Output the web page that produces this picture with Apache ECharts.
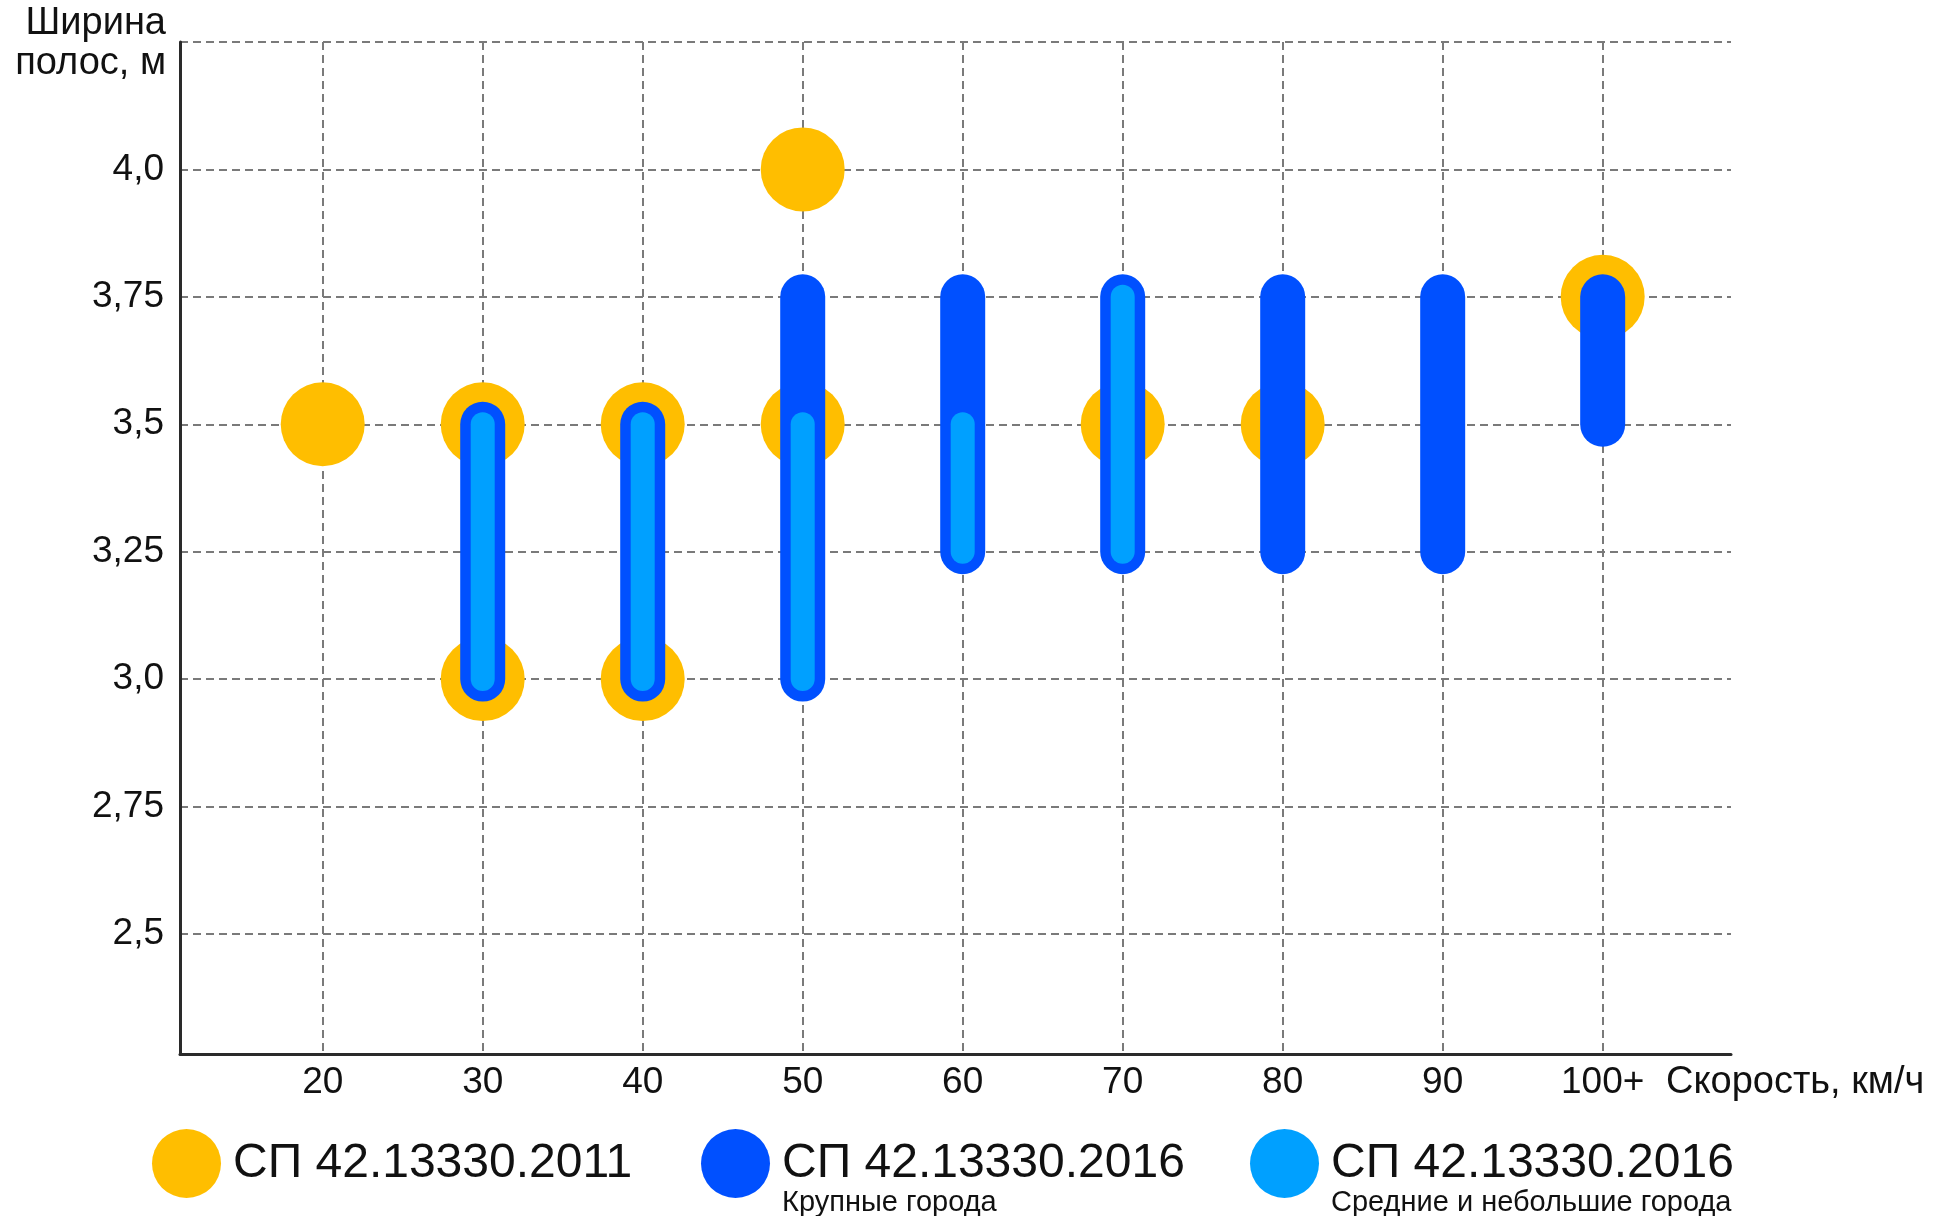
<!DOCTYPE html>
<html>
<head>
<meta charset="utf-8">
<style>
  html, body { margin: 0; padding: 0; background: #ffffff; }
  #chart { width: 1942px; height: 1216px; }
</style>
<script src="https://cdn.jsdelivr.net/npm/echarts@6/dist/echarts.min.js"></script>
</head>
<body>
<div id="chart"></div>
<script>
// ---- Data ----
const xTickValues = [20, 30, 40, 50, 60, 70, 80, 90, 100];
const xTickLabels = ['20', '30', '40', '50', '60', '70', '80', '90', '100+'];
const yTickValues = [2.5, 2.75, 3.0, 3.25, 3.5, 3.75, 4.0, 4.25];
const yTickLabels = ['2,5', '2,75', '3,0', '3,25', '3,5', '3,75', '4,0', ''];

// СП 42.13330.2011 (points)
const sp2011Speed = [20, 30, 30, 40, 40, 50, 50, 70, 80, 100];
const sp2011Width = [3.5, 3.0, 3.5, 3.0, 3.5, 3.5, 4.0, 3.5, 3.5, 3.75];

// СП 42.13330.2016, large cities (ranges)
const largeSpeed = [30, 40, 50, 60, 70, 80, 90, 100];
const largeMin = [3.0, 3.0, 3.0, 3.25, 3.25, 3.25, 3.25, 3.5];
const largeMax = [3.5, 3.5, 3.75, 3.75, 3.75, 3.75, 3.75, 3.75];

// СП 42.13330.2016, medium and small cities (ranges)
const smallSpeed = [30, 40, 50, 60, 70];
const smallMin = [3.0, 3.0, 3.0, 3.25, 3.25];
const smallMax = [3.5, 3.5, 3.5, 3.5, 3.75];

const seriesNames = ['СП 42.13330.2011', 'СП 42.13330.2016 Крупные города', 'СП 42.13330.2016 Средние и небольшие города'];
const legendTitles = ['СП 42.13330.2011', 'СП 42.13330.2016', 'СП 42.13330.2016'];
const legendSubtitles = ['', 'Крупные города', 'Средние и небольшие города'];

// ---- Styles ----
const FONT = "'Liberation Sans', Arial, Helvetica, sans-serif";
const YELLOW = '#FFBE00';
const BLUE = '#0050FF';
const LIGHT = '#00A0FF';

const chart = echarts.init(document.getElementById('chart'), null, { renderer: 'canvas' });

function rangeRenderer(color, width) {
  return function (params, api) {
    const x = api.value(0);
    const p1 = api.coord([x, api.value(1)]);
    const p2 = api.coord([x, api.value(2)]);
    return {
      type: 'line',
      shape: { x1: p1[0], y1: p1[1], x2: p2[0], y2: p2[1] },
      style: { stroke: color, lineWidth: width, lineCap: 'round', fill: null }
    };
  };
}

function legendFor(i, left) {
  return {
    show: true,
    data: [{ name: seriesNames[i], icon: 'circle' }],
    orient: 'horizontal',
    left: left,
    top: 1165 - 55,
    padding: 0,
    itemWidth: 69,
    itemHeight: 69,
    selectedMode: false,
    textStyle: {
      fontFamily: FONT,
      color: '#111',
      padding: [0, 0, 0, 7],
      rich: {
        s: { fontSize: 29, lineHeight: 32, fontFamily: FONT },
        a: { fontSize: 48, lineHeight: 46, fontFamily: FONT, color: '#111' },
        b: { fontSize: 29, lineHeight: 32, fontFamily: FONT, color: '#111' }
      }
    },
    formatter: function () {
      return '{s| }\n{a|' + legendTitles[i] + '}\n' + (legendSubtitles[i] ? '{b|' + legendSubtitles[i] + '}' : '{s| }');
    }
  };
}

const option = {
  animation: false,
  backgroundColor: '#ffffff',
  textStyle: { fontFamily: FONT },
  grid: { left: 180, right: 211, top: 42, bottom: 162, containLabel: false },
  xAxis: {
    type: 'value',
    min: 11.08,
    max: 108.02,
    name: 'Скорость, км/ч',
    nameLocation: 'end',
    nameGap: -65,
    nameMoveOverlap: false,
    nameTextStyle: { fontFamily: FONT, fontSize: 38, color: '#111', align: 'left', verticalAlign: 'top', padding: [10, 0, 0, 0] },
    axisLine: { show: true, onZero: false, lineStyle: { color: '#2a2a2a', width: 3 } },
    axisTick: { show: false, customValues: xTickValues },
    axisLabel: {
      show: true,
      customValues: xTickValues,
      margin: 10,
      fontFamily: FONT,
      fontSize: 37,
      color: '#111',
      formatter: function (v) {
        const idx = xTickValues.indexOf(Math.round(v));
        return idx >= 0 ? xTickLabels[idx] : '';
      }
    },
    splitLine: { show: true, customValues: xTickValues, lineStyle: { color: '#7a7a7a', width: 2, type: [8, 5] } }
  },
  yAxis: {
    type: 'value',
    min: 2.2645,
    max: 4.25,
    name: 'Ширина\nполос, м',
    nameLocation: 'end',
    nameGap: 38,
    nameMoveOverlap: false,
    nameTextStyle: { fontFamily: FONT, fontSize: 38, lineHeight: 40, color: '#111', align: 'right', verticalAlign: 'top', padding: [0, 14, 0, 0] },
    axisLine: { show: true, onZero: false, lineStyle: { color: '#2a2a2a', width: 3 } },
    axisTick: { show: false, customValues: yTickValues },
    axisLabel: {
      show: true,
      customValues: yTickValues,
      margin: 16,
      fontFamily: FONT,
      fontSize: 37,
      color: '#111',
      formatter: function (v) {
        for (let k = 0; k < yTickValues.length; k++) {
          if (Math.abs(yTickValues[k] - v) < 1e-6) return yTickLabels[k];
        }
        return '';
      }
    },
    splitLine: { show: true, customValues: yTickValues, lineStyle: { color: '#7a7a7a', width: 2, type: [8, 5] } }
  },
  legend: [legendFor(0, 152), legendFor(1, 701), legendFor(2, 1250)],
  series: [
    {
      name: seriesNames[0],
      type: 'scatter',
      z: 2,
      symbol: 'circle',
      symbolSize: 84,
      itemStyle: { color: YELLOW, opacity: 1 },
      emphasis: { disabled: true },
      data: sp2011Speed.map((s, i) => [s, sp2011Width[i]])
    },
    {
      name: seriesNames[1],
      type: 'custom',
      z: 3,
      itemStyle: { color: BLUE },
      encode: { x: 0, y: [1, 2] },
      renderItem: rangeRenderer(BLUE, 45),
      data: largeSpeed.map((s, i) => [s, largeMin[i], largeMax[i]])
    },
    {
      name: seriesNames[2],
      type: 'custom',
      z: 4,
      itemStyle: { color: LIGHT },
      encode: { x: 0, y: [1, 2] },
      renderItem: rangeRenderer(LIGHT, 24),
      data: smallSpeed.map((s, i) => [s, smallMin[i], smallMax[i]])
    }
  ]
};

chart.setOption(option);
</script>
</body>
</html>
